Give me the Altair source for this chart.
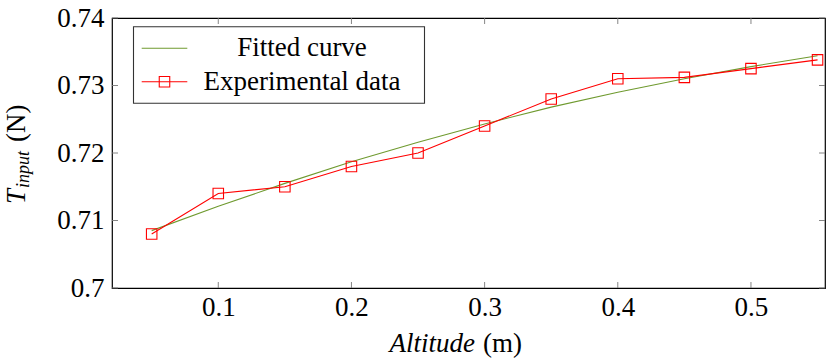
import altair as alt
import pandas as pd

# ---- data ----
altitude = [0.05, 0.10, 0.15, 0.20, 0.25, 0.30, 0.35, 0.40, 0.45, 0.50, 0.55]
experimental = [0.7080, 0.7140, 0.7150, 0.7180, 0.7200, 0.7240, 0.7280, 0.7310, 0.7312, 0.7325, 0.7338]
fitted = [0.7085, 0.7121, 0.7155, 0.7187, 0.7216, 0.7243, 0.7268, 0.7290, 0.7310, 0.7328, 0.7344]
x_ticks = [0.1, 0.2, 0.3, 0.4, 0.5]
y_ticks = [0.70, 0.71, 0.72, 0.73, 0.74]
series_names = ["Fitted curve", "Experimental data"]
series_colors = ["#6f9a2f", "#ff0000"]
x_title = ["Altitude", "(m)"]
y_title = ["T", "input", "(N)"]

W, H = 713, 270
FONT = "Liberation Serif"
FS = 27

xs = alt.Scale(domain=[0.0202, 0.5556], nice=False, zero=False)
ys = alt.Scale(domain=[0.70, 0.74], nice=False, zero=False)
ax_x = alt.Axis(values=x_ticks, format=".1f", title=None, labelPadding=6)
ax_y = alt.Axis(values=y_ticks, format=".2~f", title=None, labelPadding=8)

df = pd.DataFrame({"altitude": altitude, "experimental": experimental, "fitted": fitted})
base = alt.Chart(df)

def X(f):
    return alt.X(f, type="quantitative", scale=xs, axis=ax_x)

def Y(f):
    return alt.Y(f, type="quantitative", scale=ys, axis=ax_y)

fit_line = base.mark_line(color=series_colors[0], strokeWidth=1.1).encode(
    x=X("altitude"), y=Y("fitted"))
exp_line = base.mark_line(color=series_colors[1], strokeWidth=1.1).encode(
    x=X("altitude"), y=Y("experimental"))
exp_pts = base.mark_point(shape="square", size=110, filled=False, color=series_colors[1],
                          strokeWidth=1.1, opacity=1).encode(
    x=X("altitude"), y=Y("experimental"))

# inward ticks on all four sides
tx = alt.Chart(pd.DataFrame({"t": x_ticks}))
ty = alt.Chart(pd.DataFrame({"t": y_ticks}))
tick_style = dict(color="#777777", strokeWidth=0.9)
tick_len = 6
ticks = [
    tx.mark_rule(**tick_style).encode(x=X("t"), y=alt.value(H), y2=alt.value(H - tick_len)),
    tx.mark_rule(**tick_style).encode(x=X("t"), y=alt.value(0), y2=alt.value(tick_len)),
    ty.mark_rule(**tick_style).encode(y=Y("t"), x=alt.value(0), x2=alt.value(tick_len)),
    ty.mark_rule(**tick_style).encode(y=Y("t"), x=alt.value(W), x2=alt.value(W - tick_len)),
]

one = alt.Chart(pd.DataFrame({"a": [0]}))

# axis titles
titles = [
    one.mark_text(text=x_title[0], font=FONT, fontSize=FS, fontStyle="italic",
                  align="right", baseline="alphabetic").encode(x=alt.value(363), y=alt.value(334)),
    one.mark_text(text=x_title[1], font=FONT, fontSize=FS,
                  align="left", baseline="alphabetic").encode(x=alt.value(371), y=alt.value(334)),
    one.mark_text(text=y_title[0], font=FONT, fontSize=FS, fontStyle="italic", angle=270,
                  align="left", baseline="alphabetic").encode(x=alt.value(-87), y=alt.value(186)),
    one.mark_text(text=y_title[1], font=FONT, fontSize=18, fontStyle="italic", angle=270,
                  align="left", baseline="alphabetic").encode(x=alt.value(-83), y=alt.value(170)),
    one.mark_text(text=y_title[2], font=FONT, fontSize=FS, angle=270,
                  align="left", baseline="alphabetic").encode(x=alt.value(-87), y=alt.value(124)),
]

# legend
rows_y = [30.3, 63.7]
legend = [
    one.mark_rect(fill="white", stroke="#333333", strokeWidth=1.1).encode(
        x=alt.value(21.5), x2=alt.value(312.5), y=alt.value(8.7), y2=alt.value(85.3)),
]
for i, (name, col) in enumerate(zip(series_names, series_colors)):
    legend.append(one.mark_rule(color=col, strokeWidth=1.1).encode(
        x=alt.value(29.7), x2=alt.value(75.3), y=alt.value(rows_y[i])))
    legend.append(one.mark_text(text=name, font=FONT, fontSize=FS, align="center",
                                baseline="middle").encode(x=alt.value(190), y=alt.value(rows_y[i])))
legend.append(one.mark_point(shape="square", size=110, filled=False, color=series_colors[1],
                             strokeWidth=1.1, opacity=1).encode(
    x=alt.value(52.5), y=alt.value(rows_y[1])))

chart = alt.layer(fit_line, exp_line, exp_pts, *ticks, *titles, *legend).properties(
    width=W, height=H,
    autosize=alt.AutoSizeParams(type="none"),
    padding={"left": 112, "top": 18, "right": 1, "bottom": 72},
).configure_view(stroke="black", strokeWidth=1.2).configure_axis(
    labelFont=FONT, labelFontSize=FS, labelColor="black", domain=False, ticks=False, grid=False
)

chart.save("out.html", embed_options={"renderer": "svg", "actions": False})
